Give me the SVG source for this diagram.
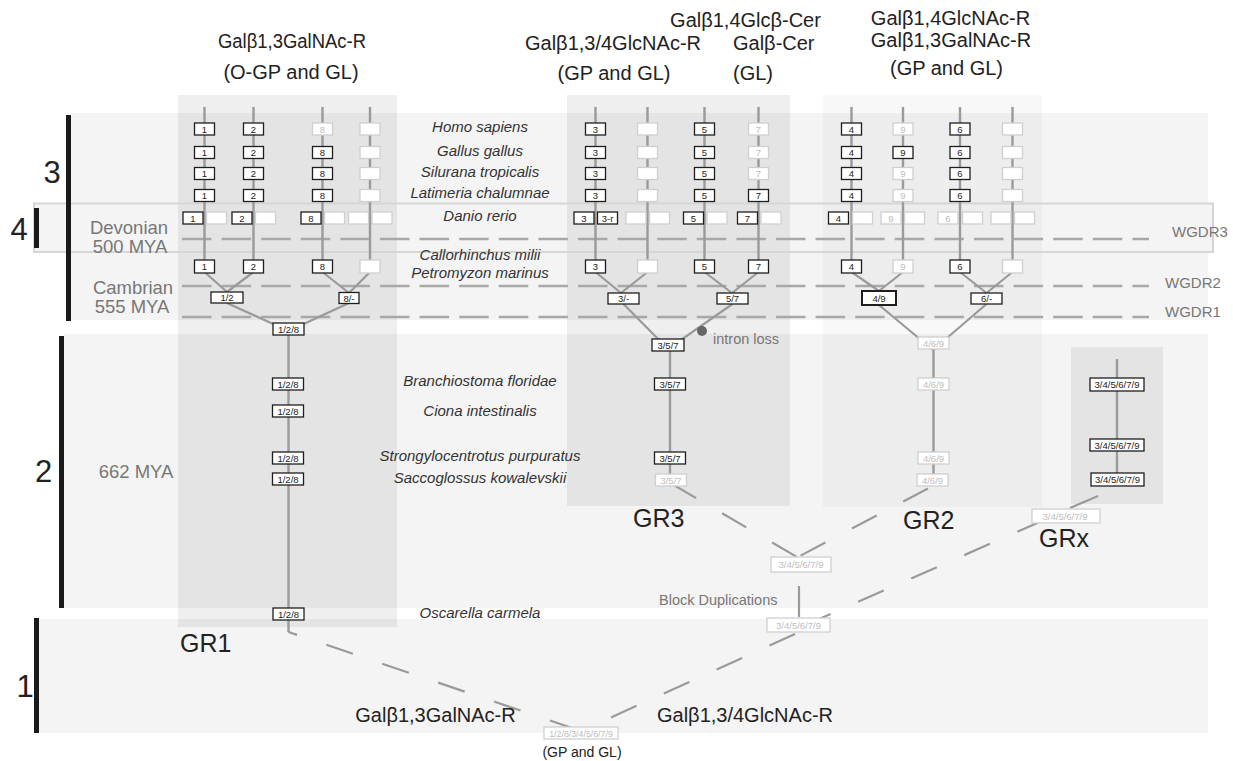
<svg xmlns="http://www.w3.org/2000/svg" width="1233" height="761" viewBox="0 0 1233 761">
<style>
text{font-family:"Liberation Sans",Arial,Helvetica,sans-serif}
.band{fill:#f4f4f4}
.bar{fill:#1a1a1a}
.colA{fill:#000;fill-opacity:0.062}
.colB{fill:#000;fill-opacity:0.028}
.wgd{stroke:#a8a8a8;stroke-width:2.5;fill:none;stroke-dasharray:29.5 10.1}
.ln{stroke:#9a9a9a;stroke-width:2.4;fill:none}
.dg{stroke:#9a9a9a;stroke-width:2.2;fill:none}
.ds{stroke:#9a9a9a;stroke-width:2.2;fill:none;stroke-dasharray:28 30}
.n text{font-size:9.5px;text-anchor:middle}
.k rect{fill:#fff;stroke:#1e1e1e;stroke-width:1.3}
.k text{fill:#222}
.g rect{fill:#fff;stroke:#cfcfcf;stroke-width:1.3}
.g text{fill:#bdbdbd}
.hd{font-size:20px;fill:#222;text-anchor:middle}
.sp{font-size:15px;font-style:italic;fill:#333;text-anchor:middle}
.era{font-size:18.5px;fill:#777;text-anchor:middle}
.wl{font-size:15px;fill:#777}
.big{font-size:31px;fill:#222;text-anchor:middle}
.gr{font-size:25px;fill:#222}
</style>

<g id="backgrounds">
<rect class="band" x="34" y="203.5" width="1179" height="48.5"/>
<rect class="band" x="71" y="113" width="1137" height="207"/>
<rect class="band" x="64" y="334" width="1144" height="274"/>
<rect class="band" x="39" y="619" width="1169" height="114"/>
<rect class="colA" x="178" y="95" width="219" height="532"/>
<rect class="colA" x="567" y="95" width="223" height="411"/>
<rect class="colB" x="823" y="95" width="219" height="412"/>
<rect class="colA" x="1071" y="347" width="92" height="157"/>
<rect x="34" y="203.5" width="1179" height="48.5" fill="none" stroke="#d6d6d6" stroke-width="2"/>
<rect class="bar" x="66" y="115" width="5" height="206"/>
<rect class="bar" x="34" y="208" width="5" height="40"/>
<rect class="bar" x="59" y="336" width="5" height="272"/>
<rect class="bar" x="34" y="618" width="5" height="115"/>
</g>

<g id="wgd-lines">
<line class="wgd" x1="182" y1="239" x2="1149" y2="239"/>
<line class="wgd" x1="182" y1="286" x2="1149" y2="286"/>
<line class="wgd" x1="182" y1="317" x2="1149" y2="317"/>
</g>

<g id="connectors">
<path class="ln" d="M204.5,107V266M253.5,107V266M322.5,107V266M370,107V266"/>
<path class="dg" d="M204.5,272L227,292M253.5,272L227,292M322.5,272L349,293M370,272L349,293M227,303L288.5,331M349,303L288.5,331"/>
<path class="ln" d="M288.5,335V632"/>
<path class="ln" d="M595.5,107V266M647.5,107V266M704.5,107V266M758.5,107V266"/>
<path class="dg" d="M595.5,272L621,293M647.5,272L621,293M704.5,272L732,293M758.5,272L732,293M623.5,304L668,349M732.5,304L668,349"/>
<path class="ln" d="M670,351V474"/>
<path class="ln" d="M851.5,107V266M903,107V266M960,107V266M1012.5,107V266"/>
<path class="dg" d="M851.5,272L879,291M903,272L879,291M960,272L986.5,293M1012.5,272L986.5,293M879,305L933,350M986.5,304L933,350"/>
<path class="ln" d="M933.5,349V474"/>
<path class="ln" d="M1117,359V483"/>
<path class="dg" d="M1098,496L1070,508"/>
<path class="ds" d="M672,484L797,557"/>
<path class="ds" d="M928,488.5L798,557"/>
<path class="ds" d="M1043,520.5L810,623"/>
<path class="dg" d="M799,586V617"/>
<path class="ds" style="stroke-dasharray:28 31;stroke-dashoffset:19" d="M288.5,632L581,731"/>
<path class="ds" d="M795,634L581,731"/>
<circle cx="702" cy="331" r="5" fill="#666"/>
</g>

<g id="gr1-nodes">
<g id="g1r1c1" class="n k"><rect x="194.5" y="123" width="20" height="12"/><text x="204.5" y="132.5">1</text></g>
<g id="g1r1c2" class="n k"><rect x="243.5" y="123" width="20" height="12"/><text x="253.5" y="132.5">2</text></g>
<g id="g1r1c3" class="n g"><rect x="312.5" y="123" width="20" height="12"/><text x="322.5" y="132.5">8</text></g>
<g id="g1r1c4" class="n g"><rect x="360" y="123" width="20" height="12"/></g>
<g id="g1r2c1" class="n k"><rect x="194.5" y="146.5" width="20" height="12"/><text x="204.5" y="156">1</text></g>
<g id="g1r2c2" class="n k"><rect x="243.5" y="146.5" width="20" height="12"/><text x="253.5" y="156">2</text></g>
<g id="g1r2c3" class="n k"><rect x="312.5" y="146.5" width="20" height="12"/><text x="322.5" y="156">8</text></g>
<g id="g1r2c4" class="n g"><rect x="360" y="146.5" width="20" height="12"/></g>
<g id="g1r3c1" class="n k"><rect x="194.5" y="167.5" width="20" height="12"/><text x="204.5" y="177">1</text></g>
<g id="g1r3c2" class="n k"><rect x="243.5" y="167.5" width="20" height="12"/><text x="253.5" y="177">2</text></g>
<g id="g1r3c3" class="n k"><rect x="312.5" y="167.5" width="20" height="12"/><text x="322.5" y="177">8</text></g>
<g id="g1r3c4" class="n g"><rect x="360" y="167.5" width="20" height="12"/></g>
<g id="g1r4c1" class="n k"><rect x="194.5" y="189.5" width="20" height="12"/><text x="204.5" y="199">1</text></g>
<g id="g1r4c2" class="n k"><rect x="243.5" y="189.5" width="20" height="12"/><text x="253.5" y="199">2</text></g>
<g id="g1r4c3" class="n k"><rect x="312.5" y="189.5" width="20" height="12"/><text x="322.5" y="199">8</text></g>
<g id="g1r4c4" class="n g"><rect x="360" y="189.5" width="20" height="12"/></g>
<g id="g1d1" class="n k"><rect x="183" y="212" width="20" height="12"/><text x="193" y="221.5">1</text></g>
<g id="g1d2" class="n g"><rect x="206.5" y="212" width="20" height="12"/></g>
<g id="g1d3" class="n k"><rect x="232" y="212" width="20" height="12"/><text x="242" y="221.5">2</text></g>
<g id="g1d4" class="n g"><rect x="255.5" y="212" width="20" height="12"/></g>
<g id="g1d5" class="n k"><rect x="301" y="212" width="20" height="12"/><text x="311" y="221.5">8</text></g>
<g id="g1d6" class="n g"><rect x="324.5" y="212" width="20" height="12"/></g>
<g id="g1d7" class="n g"><rect x="348.5" y="212" width="20" height="12"/></g>
<g id="g1d8" class="n g"><rect x="372" y="212" width="20" height="12"/></g>
<g id="g1p1" class="n k"><rect x="194.5" y="260" width="20" height="13"/><text x="204.5" y="270">1</text></g>
<g id="g1p2" class="n k"><rect x="243.5" y="260" width="20" height="13"/><text x="253.5" y="270">2</text></g>
<g id="g1p3" class="n k"><rect x="312.5" y="260" width="20" height="13"/><text x="322.5" y="270">8</text></g>
<g id="g1p4" class="n g"><rect x="360" y="260" width="20" height="13"/></g>
<g id="g1m12" class="n k"><rect x="211" y="292" width="32" height="11"/><text x="227" y="301">1/2</text></g>
<g id="g1m8" class="n k"><rect x="339" y="292.5" width="20" height="11"/><text x="349" y="301.5">8/-</text></g>
<g id="g1m128" class="n k"><rect x="273" y="323" width="31" height="12"/><text x="288.5" y="332.5">1/2/8</text></g>
<g id="g1bf" class="n k"><rect x="272.5" y="378" width="31" height="12"/><text x="288" y="387.5">1/2/8</text></g>
<g id="g1ci" class="n k"><rect x="272.5" y="405" width="31" height="12"/><text x="288" y="414.5">1/2/8</text></g>
<g id="g1sp" class="n k"><rect x="272.5" y="452" width="31" height="12"/><text x="288" y="461.5">1/2/8</text></g>
<g id="g1sk" class="n k"><rect x="272.5" y="473" width="31" height="12"/><text x="288" y="482.5">1/2/8</text></g>
<g id="g1oc" class="n k"><rect x="273" y="608" width="31" height="12"/><text x="288.5" y="617.5">1/2/8</text></g>
</g>

<g id="gr3-nodes">
<g id="g3r1c1" class="n k"><rect x="585.5" y="123" width="20" height="12"/><text x="595.5" y="132.5">3</text></g>
<g id="g3r1c2" class="n g"><rect x="637.5" y="123" width="20" height="12"/></g>
<g id="g3r1c3" class="n k"><rect x="694.5" y="123" width="20" height="12"/><text x="704.5" y="132.5">5</text></g>
<g id="g3r1c4" class="n g"><rect x="748.5" y="123" width="20" height="12"/><text x="758.5" y="132.5">7</text></g>
<g id="g3r2c1" class="n k"><rect x="585.5" y="146.5" width="20" height="12"/><text x="595.5" y="156">3</text></g>
<g id="g3r2c2" class="n g"><rect x="637.5" y="146.5" width="20" height="12"/></g>
<g id="g3r2c3" class="n k"><rect x="694.5" y="146.5" width="20" height="12"/><text x="704.5" y="156">5</text></g>
<g id="g3r2c4" class="n g"><rect x="748.5" y="146.5" width="20" height="12"/><text x="758.5" y="156">7</text></g>
<g id="g3r3c1" class="n k"><rect x="585.5" y="167.5" width="20" height="12"/><text x="595.5" y="177">3</text></g>
<g id="g3r3c2" class="n g"><rect x="637.5" y="167.5" width="20" height="12"/></g>
<g id="g3r3c3" class="n k"><rect x="694.5" y="167.5" width="20" height="12"/><text x="704.5" y="177">5</text></g>
<g id="g3r3c4" class="n g"><rect x="748.5" y="167.5" width="20" height="12"/><text x="758.5" y="177">7</text></g>
<g id="g3r4c1" class="n k"><rect x="585.5" y="189.5" width="20" height="12"/><text x="595.5" y="199">3</text></g>
<g id="g3r4c2" class="n g"><rect x="637.5" y="189.5" width="20" height="12"/></g>
<g id="g3r4c3" class="n k"><rect x="694.5" y="189.5" width="20" height="12"/><text x="704.5" y="199">5</text></g>
<g id="g3r4c4" class="n k"><rect x="748.5" y="189.5" width="20" height="12"/><text x="758.5" y="199">7</text></g>
<g id="g3d1" class="n k"><rect x="574" y="212" width="20" height="12"/><text x="584" y="221.5">3</text></g>
<g id="g3d2" class="n k"><rect x="597.5" y="212" width="20" height="12"/><text x="607.5" y="221.5">3-r</text></g>
<g id="g3d3" class="n g"><rect x="626" y="212" width="20" height="12"/></g>
<g id="g3d4" class="n g"><rect x="649.5" y="212" width="20" height="12"/></g>
<g id="g3d5" class="n k"><rect x="683.5" y="212" width="20" height="12"/><text x="693.5" y="221.5">5</text></g>
<g id="g3d6" class="n g"><rect x="707" y="212" width="20" height="12"/></g>
<g id="g3d7" class="n k"><rect x="737.5" y="212" width="20" height="12"/><text x="747.5" y="221.5">7</text></g>
<g id="g3d8" class="n g"><rect x="761" y="212" width="20" height="12"/></g>
<g id="g3p1" class="n k"><rect x="585.5" y="260" width="20" height="13"/><text x="595.5" y="270">3</text></g>
<g id="g3p2" class="n g"><rect x="637.5" y="260" width="20" height="13"/></g>
<g id="g3p3" class="n k"><rect x="694.5" y="260" width="20" height="13"/><text x="704.5" y="270">5</text></g>
<g id="g3p4" class="n k"><rect x="748.5" y="260" width="20" height="13"/><text x="758.5" y="270">7</text></g>
<g id="g3m3" class="n k"><rect x="608" y="293" width="31" height="11"/><text x="623.5" y="302">3/-</text></g>
<g id="g3m57" class="n k"><rect x="717" y="293" width="31" height="11"/><text x="732.5" y="302">5/7</text></g>
<g id="g3m357" class="n k"><rect x="652" y="339" width="32" height="12"/><text x="668" y="348.5">3/5/7</text></g>
<g id="g3bf" class="n k"><rect x="654.5" y="378" width="31" height="12"/><text x="670" y="387.5">3/5/7</text></g>
<g id="g3sp" class="n k"><rect x="654.5" y="452" width="31" height="12"/><text x="670" y="461.5">3/5/7</text></g>
<g id="g3sk" class="n g"><rect x="655.5" y="474" width="31" height="12"/><text x="671" y="483.5">3/5/7</text></g>
</g>

<g id="gr2-nodes">
<g id="g2r1c1" class="n k"><rect x="841.5" y="123" width="20" height="12"/><text x="851.5" y="132.5">4</text></g>
<g id="g2r1c2" class="n g"><rect x="893" y="123" width="20" height="12"/><text x="903" y="132.5">9</text></g>
<g id="g2r1c3" class="n k"><rect x="950" y="123" width="20" height="12"/><text x="960" y="132.5">6</text></g>
<g id="g2r1c4" class="n g"><rect x="1002.5" y="123" width="20" height="12"/></g>
<g id="g2r2c1" class="n k"><rect x="841.5" y="146.5" width="20" height="12"/><text x="851.5" y="156">4</text></g>
<g id="g2r2c2" class="n k"><rect x="893" y="146.5" width="20" height="12"/><text x="903" y="156">9</text></g>
<g id="g2r2c3" class="n k"><rect x="950" y="146.5" width="20" height="12"/><text x="960" y="156">6</text></g>
<g id="g2r2c4" class="n g"><rect x="1002.5" y="146.5" width="20" height="12"/></g>
<g id="g2r3c1" class="n k"><rect x="841.5" y="167.5" width="20" height="12"/><text x="851.5" y="177">4</text></g>
<g id="g2r3c2" class="n g"><rect x="893" y="167.5" width="20" height="12"/><text x="903" y="177">9</text></g>
<g id="g2r3c3" class="n k"><rect x="950" y="167.5" width="20" height="12"/><text x="960" y="177">6</text></g>
<g id="g2r3c4" class="n g"><rect x="1002.5" y="167.5" width="20" height="12"/></g>
<g id="g2r4c1" class="n k"><rect x="841.5" y="189.5" width="20" height="12"/><text x="851.5" y="199">4</text></g>
<g id="g2r4c2" class="n g"><rect x="893" y="189.5" width="20" height="12"/><text x="903" y="199">9</text></g>
<g id="g2r4c3" class="n k"><rect x="950" y="189.5" width="20" height="12"/><text x="960" y="199">6</text></g>
<g id="g2r4c4" class="n g"><rect x="1002.5" y="189.5" width="20" height="12"/></g>
<g id="g2d1" class="n k"><rect x="828.5" y="212" width="20" height="12"/><text x="838.5" y="221.5">4</text></g>
<g id="g2d2" class="n g"><rect x="852.5" y="212" width="20" height="12"/></g>
<g id="g2d3" class="n g"><rect x="881" y="212" width="20" height="12"/><text x="891" y="221.5">9</text></g>
<g id="g2d4" class="n g"><rect x="904.5" y="212" width="20" height="12"/></g>
<g id="g2d5" class="n g"><rect x="938" y="212" width="20" height="12"/><text x="948" y="221.5">6</text></g>
<g id="g2d6" class="n g"><rect x="962.5" y="212" width="20" height="12"/></g>
<g id="g2d7" class="n g"><rect x="991" y="212" width="20" height="12"/></g>
<g id="g2d8" class="n g"><rect x="1014.5" y="212" width="20" height="12"/></g>
<g id="g2p1" class="n k"><rect x="841.5" y="260" width="20" height="13"/><text x="851.5" y="270">4</text></g>
<g id="g2p2" class="n g"><rect x="893" y="260" width="20" height="13"/><text x="903" y="270">9</text></g>
<g id="g2p3" class="n k"><rect x="950" y="260" width="20" height="13"/><text x="960" y="270">6</text></g>
<g id="g2p4" class="n g"><rect x="1002.5" y="260" width="20" height="13"/></g>
<g id="g2m49" class="n k"><rect x="862" y="291" width="34" height="14" style="stroke-width:2"/><text x="879" y="301.5">4/9</text></g>
<g id="g2m6" class="n k"><rect x="971" y="293" width="31" height="11"/><text x="986.5" y="302">6/-</text></g>
<g id="g2m469" class="n g"><rect x="918" y="337" width="31" height="12"/><text x="933.5" y="346.5">4/6/9</text></g>
<g id="g2bf" class="n g"><rect x="918" y="378" width="31" height="12"/><text x="933.5" y="387.5">4/6/9</text></g>
<g id="g2sp" class="n g"><rect x="918" y="452" width="31" height="12"/><text x="933.5" y="461.5">4/6/9</text></g>
<g id="g2sk" class="n g"><rect x="917" y="474" width="31" height="12"/><text x="932.5" y="483.5">4/6/9</text></g>
</g>

<g id="grx-nodes">
<g id="gxbf" class="n k"><rect x="1090" y="378" width="54" height="13"/><text x="1117" y="388">3/4/5/6/7/9</text></g>
<g id="gxsp" class="n k"><rect x="1090" y="439" width="54" height="12"/><text x="1117" y="448.5">3/4/5/6/7/9</text></g>
<g id="gxsk" class="n k"><rect x="1091" y="473" width="53" height="13"/><text x="1117.5" y="483">3/4/5/6/7/9</text></g>
<g id="gxanc" class="n g"><rect x="1032" y="509" width="68" height="14"/><text x="1065" y="519.5">3/4/5/6/7/9</text></g>
</g>
<g id="anc-nodes">
<g id="bd1" class="n g"><rect x="771" y="557" width="60" height="15"/><text x="801" y="568">3/4/5/6/7/9</text></g>
<g id="bd2" class="n g"><rect x="767" y="618" width="63" height="14"/><text x="798.5" y="628.5">3/4/5/6/7/9</text></g>
<g id="root" class="n g"><rect x="544" y="727" width="74" height="12"/><text x="581" y="736.5" style="font-size:8.8px">1/2/8/3/4/5/6/7/9</text></g>
</g>

<g id="headers">
<text class="hd" x="292" y="48" textLength="148" lengthAdjust="spacingAndGlyphs">Galβ1,3GalNAc-R</text>
<text class="hd" x="291" y="79">(O-GP and GL)</text>
<text class="hd" x="613" y="50">Galβ1,3/4GlcNAc-R</text>
<text class="hd" x="614" y="80">(GP and GL)</text>
<text class="hd" x="745.5" y="26.5">Galβ1,4Glcβ-Cer</text>
<text class="hd" x="733" y="50" style="text-anchor:start">Galβ-Cer</text>
<text class="hd" x="733" y="80" style="text-anchor:start">(GL)</text>
<text class="hd" x="950.5" y="25">Galβ1,4GlcNAc-R</text>
<text class="hd" x="951" y="47">Galβ1,3GalNAc-R</text>
<text class="hd" x="946.5" y="75">(GP and GL)</text>
</g>

<g id="species">
<text class="sp" x="480" y="132">Homo sapiens</text>
<text class="sp" x="480" y="156">Gallus gallus</text>
<text class="sp" x="480" y="177">Silurana tropicalis</text>
<text class="sp" x="480" y="198">Latimeria chalumnae</text>
<text class="sp" x="480" y="221">Danio rerio</text>
<text class="sp" x="480" y="260">Callorhinchus milii</text>
<text class="sp" x="480" y="278">Petromyzon marinus</text>
<text class="sp" x="480" y="386">Branchiostoma floridae</text>
<text class="sp" x="480" y="416">Ciona intestinalis</text>
<text class="sp" x="480" y="461">Strongylocentrotus purpuratus</text>
<text class="sp" x="480" y="483">Saccoglossus kowalevskii</text>
<text class="sp" x="480" y="618">Oscarella carmela</text>
</g>

<g id="labels">
<text class="big" x="52" y="183">3</text>
<text class="big" x="19" y="240">4</text>
<text class="big" x="43.5" y="482">2</text>
<text class="big" x="25" y="697">1</text>
<text class="era" x="129" y="234">Devonian</text>
<text class="era" x="130" y="253">500 MYA</text>
<text class="era" x="133" y="294">Cambrian</text>
<text class="era" x="132" y="313">555 MYA</text>
<text class="era" x="136" y="478">662 MYA</text>
<text class="wl" x="1172" y="237">WGDR3</text>
<text class="wl" x="1165" y="288">WGDR2</text>
<text class="wl" x="1165" y="317">WGDR1</text>
<text class="wl" x="713" y="344" style="font-size:14.5px">intron loss</text>
<text class="wl" x="659" y="605" style="font-size:14.5px">Block Duplications</text>
<text class="gr" x="180" y="652">GR1</text>
<text class="gr" x="633" y="527">GR3</text>
<text class="gr" x="903" y="529">GR2</text>
<text class="gr" x="1039" y="547">GRx</text>
<text class="hd" x="435.5" y="722">Galβ1,3GalNAc-R</text>
<text class="hd" x="745" y="722">Galβ1,3/4GlcNAc-R</text>
<text class="hd" x="582" y="757" style="font-size:14px">(GP and GL)</text>
</g>
</svg>
